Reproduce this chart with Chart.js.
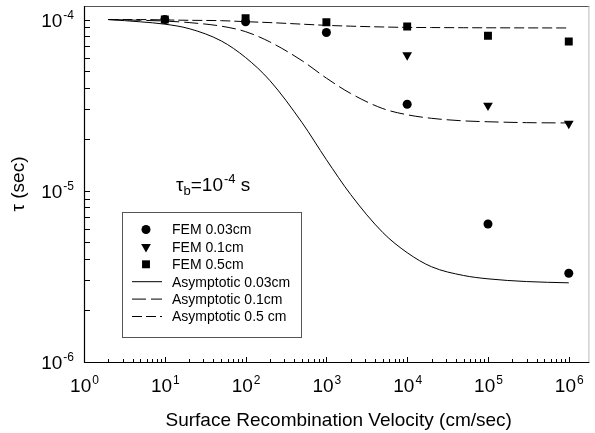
<!DOCTYPE html>
<html>
<head>
<meta charset="utf-8">
<script src="https://cdn.jsdelivr.net/npm/chart.js@4.4.0/dist/chart.umd.min.js"></script>
<style>
  body { margin: 0; background: #fff; }
  #wrap { width: 595px; height: 433px; }
</style>
</head>
<body>
<div id="wrap"><canvas id="bieudo" width="595" height="433"></canvas></div>
<script>
// du lieu FEM (diem)
const femX = [10, 100, 1000, 1e4, 1e5, 1e6];
const fem003 = [1.0e-4, 0.97e-4, 0.84e-4, 3.2e-5, 6.4e-6, 3.3e-6];
const fem01 = [null, null, null, 6.2e-5, 3.15e-5, 2.47e-5];
const fem05 = [1.0e-4, 1.02e-4, 0.965e-4, 0.91e-4, 0.805e-4, 0.745e-4];

// du lieu duong tiem can
const asymX = [2, 5, 10, 20, 50, 100, 200, 500, 1000, 2000, 5000, 1e4, 2e4, 5e4, 1e5, 3e5, 1e6];
const asym003 = [1.0e-4, 0.97e-4, 0.94e-4, 0.885e-4, 0.75e-4, 0.6e-4, 0.44e-4, 2.5e-5, 1.52e-5, 9.5e-6, 5.7e-6, 4.35e-6, 3.6e-6, 3.2e-6, 3.06e-6, 2.95e-6, 2.9e-6];
const asym01 = [1.0e-4, 0.99e-4, 0.98e-4, 0.96e-4, 0.915e-4, 0.85e-4, 0.74e-4, 0.575e-4, 0.455e-4, 3.7e-5, 3.02e-5, 2.78e-5, 2.65e-5, 2.56e-5, 2.53e-5, 2.5e-5, 2.49e-5];
const asym05 = [1.0e-4, 1.0e-4, 0.995e-4, 0.99e-4, 0.985e-4, 0.972e-4, 0.96e-4, 0.94e-4, 0.925e-4, 0.915e-4, 0.905e-4, 0.9e-4, 0.898e-4, 0.896e-4, 0.895e-4, 0.894e-4, 0.893e-4];

// nhan truc
const xTicks = [1, 10, 100, 1e3, 1e4, 1e5, 1e6];
const xTickExp = ["0", "1", "2", "3", "4", "5", "6"];
const yTicks = [1e-6, 1e-5, 1e-4];
const yTickExp = ["-6", "-5", "-4"];

const FONT = "Arial, 'Liberation Sans', sans-serif";

function toPts(xs, ys) {
  const out = [];
  xs.forEach((x, i) => { if (ys[i] != null) out.push({ x: x, y: ys[i] }); });
  return out;
}

// ve chu co so mu: "10" + mu
function drawPow(ctx, exp, x, y, align, size, supSize) {
  ctx.font = size + "px " + FONT;
  const w1 = ctx.measureText("10").width;
  ctx.font = supSize + "px " + FONT;
  const w2 = ctx.measureText(exp).width;
  let left = x;
  if (align === "center") left = x - (w1 + w2) / 2;
  if (align === "right") left = x - (w1 + w2);
  ctx.textAlign = "left";
  ctx.textBaseline = "alphabetic";
  ctx.font = size + "px " + FONT;
  ctx.fillText("10", left, y);
  ctx.font = supSize + "px " + FONT;
  ctx.fillText(exp, left + w1 + 1, y - size * 0.42);
}

const veTruc = {
  id: "veTruc",
  afterDraw(chart) {
    const ctx = chart.ctx;
    const a = chart.chartArea;
    const xs = chart.scales.x, ys = chart.scales.y;
    ctx.save();
    ctx.fillStyle = "#000";
    ctx.setLineDash([]);

    // khung
    ctx.lineWidth = 1;
    ctx.strokeStyle = "#555";
    ctx.beginPath();
    ctx.moveTo(a.left, a.top + 0.5); ctx.lineTo(a.right, a.top + 0.5);
    ctx.stroke();
    ctx.strokeStyle = "#bbb";
    ctx.beginPath();
    ctx.moveTo(a.right - 0.5, a.top); ctx.lineTo(a.right - 0.5, a.bottom);
    ctx.stroke();
    ctx.strokeStyle = "#000";
    ctx.lineWidth = 1.2;
    ctx.beginPath();
    ctx.moveTo(a.left + 0.5, a.top); ctx.lineTo(a.left + 0.5, a.bottom + 0.5);
    ctx.lineTo(a.right, a.bottom + 0.5);
    ctx.stroke();

    // vach chia truc x (huong vao trong)
    ctx.lineWidth = 1;
    ctx.beginPath();
    for (let d = 0; d <= 6; d++) {
      for (let m = 1; m <= 9; m++) {
        const v = m * Math.pow(10, d);
        if (v > xs.max) break;
        const px = Math.round(xs.getPixelForValue(v)) + 0.5;
        const len = m === 1 ? 5 : 3;
        ctx.moveTo(px, a.bottom);
        ctx.lineTo(px, a.bottom - len);
      }
    }
    // vach chia truc y
    for (let d = -6; d <= -4; d++) {
      for (let m = 1; m <= 9; m++) {
        const v = m * Math.pow(10, d);
        if (v > ys.max) break;
        const py = Math.round(ys.getPixelForValue(v)) + 0.5;
        ctx.moveTo(a.left, py);
        ctx.lineTo(a.left + 6, py);
      }
    }
    ctx.stroke();

    // nhan truc
    xTicks.forEach((v, i) => {
      drawPow(ctx, xTickExp[i], xs.getPixelForValue(v), 392, "center", 19, 12);
    });
    yTicks.forEach((v, i) => {
      drawPow(ctx, yTickExp[i], 73, ys.getPixelForValue(v) + 7, "right", 19, 12);
    });

    // tieu de truc
    ctx.font = "19px " + FONT;
    ctx.textAlign = "center";
    ctx.textBaseline = "alphabetic";
    ctx.fillText("Surface Recombination Velocity (cm/sec)", (a.left + a.right) / 2 + 2, 426);
    ctx.save();
    ctx.translate(24, (a.top + a.bottom) / 2);
    ctx.rotate(-Math.PI / 2);
    ctx.font = "19px " + FONT;
    ctx.fillText("\u03c4 (sec)", 0, 0);
    ctx.restore();

    // chu thich tau_b
    ctx.textAlign = "left";
    let tx = 176;
    const by = 191;
    ctx.font = "19px " + FONT;
    ctx.fillText("\u03c4", tx, by);
    tx += ctx.measureText("\u03c4").width;
    ctx.font = "13px " + FONT;
    ctx.fillText("b", tx, by + 4);
    tx += ctx.measureText("b").width;
    ctx.font = "19px " + FONT;
    ctx.fillText("=10", tx, by);
    tx += ctx.measureText("=10").width;
    ctx.font = "13px " + FONT;
    ctx.fillText("-4", tx + 1, by - 8);
    tx += ctx.measureText("-4").width + 1;
    ctx.font = "19px " + FONT;
    ctx.fillText(" s", tx, by);

    // chu giai
    ctx.strokeStyle = "#555";
    ctx.lineWidth = 1;
    ctx.strokeRect(122.5, 212.5, 179, 125);
    ctx.font = "14px " + FONT;
    ctx.textBaseline = "middle";
    chart.data.datasets.forEach((ds, i) => {
      const ry = 229.5 + i * 17.4;
      ctx.fillStyle = "#000";
      ctx.strokeStyle = "#000";
      if (ds.showLine) {
        ctx.lineWidth = 1;
        ctx.setLineDash(ds.borderDash || []);
        ctx.beginPath();
        ctx.moveTo(132, ry);
        ctx.lineTo(162, ry);
        ctx.stroke();
        ctx.setLineDash([]);
      } else {
        Chart.helpers.drawPoint(ctx, {
          pointStyle: ds.pointStyle,
          radius: ds.pointRadius,
          rotation: ds.pointRotation || 0,
          borderWidth: 0
        }, 146, ry);
      }
      ctx.fillText(ds.label, 172, ry + 1);
    });
    ctx.restore();
  }
};

const ctx1 = document.getElementById("bieudo");

new Chart(ctx1, {
  type: "scatter",
  data: {
    datasets: [
      {
        label: "FEM 0.03cm",
        data: toPts(femX, fem003),
        pointStyle: "circle",
        pointRadius: 4.5,
        backgroundColor: "#000",
        borderWidth: 0,
      },
      {
        label: "FEM 0.1cm",
        data: toPts(femX, fem01),
        pointStyle: "triangle",
        pointRotation: 180,
        pointRadius: 5.6,
        backgroundColor: "#000",
        borderWidth: 0,
      },
      {
        label: "FEM 0.5cm",
        data: toPts(femX, fem05),
        pointStyle: "rect",
        pointRadius: 5.6,
        backgroundColor: "#000",
        borderWidth: 0,
      },
      {
        label: "Asymptotic 0.03cm",
        data: toPts(asymX, asym003),
        showLine: true,
        pointRadius: 0,
        borderColor: "#000",
        borderWidth: 1,
        cubicInterpolationMode: "monotone",
      },
      {
        label: "Asymptotic 0.1cm",
        data: toPts(asymX, asym01),
        showLine: true,
        pointRadius: 0,
        borderColor: "#000",
        borderWidth: 1,
        borderDash: [14, 5],
        cubicInterpolationMode: "monotone",
      },
      {
        label: "Asymptotic 0.5 cm",
        data: toPts(asymX, asym05),
        showLine: true,
        pointRadius: 0,
        borderColor: "#000",
        borderWidth: 1,
        borderDash: [10, 4],
        cubicInterpolationMode: "monotone",
      },
    ],
  },
  options: {
    responsive: false,
    animation: false,
    layout: { padding: { left: 84, top: 6, right: 2, bottom: 71 } },
    scales: {
      x: { type: "logarithmic", min: 1, max: 1.8e6, display: false },
      y: { type: "logarithmic", min: 1e-6, max: 1.2e-4, display: false },
    },
    plugins: {
      legend: { display: false },
      tooltip: { enabled: false },
    },
  },
  plugins: [veTruc],
});
</script>
</body>
</html>
